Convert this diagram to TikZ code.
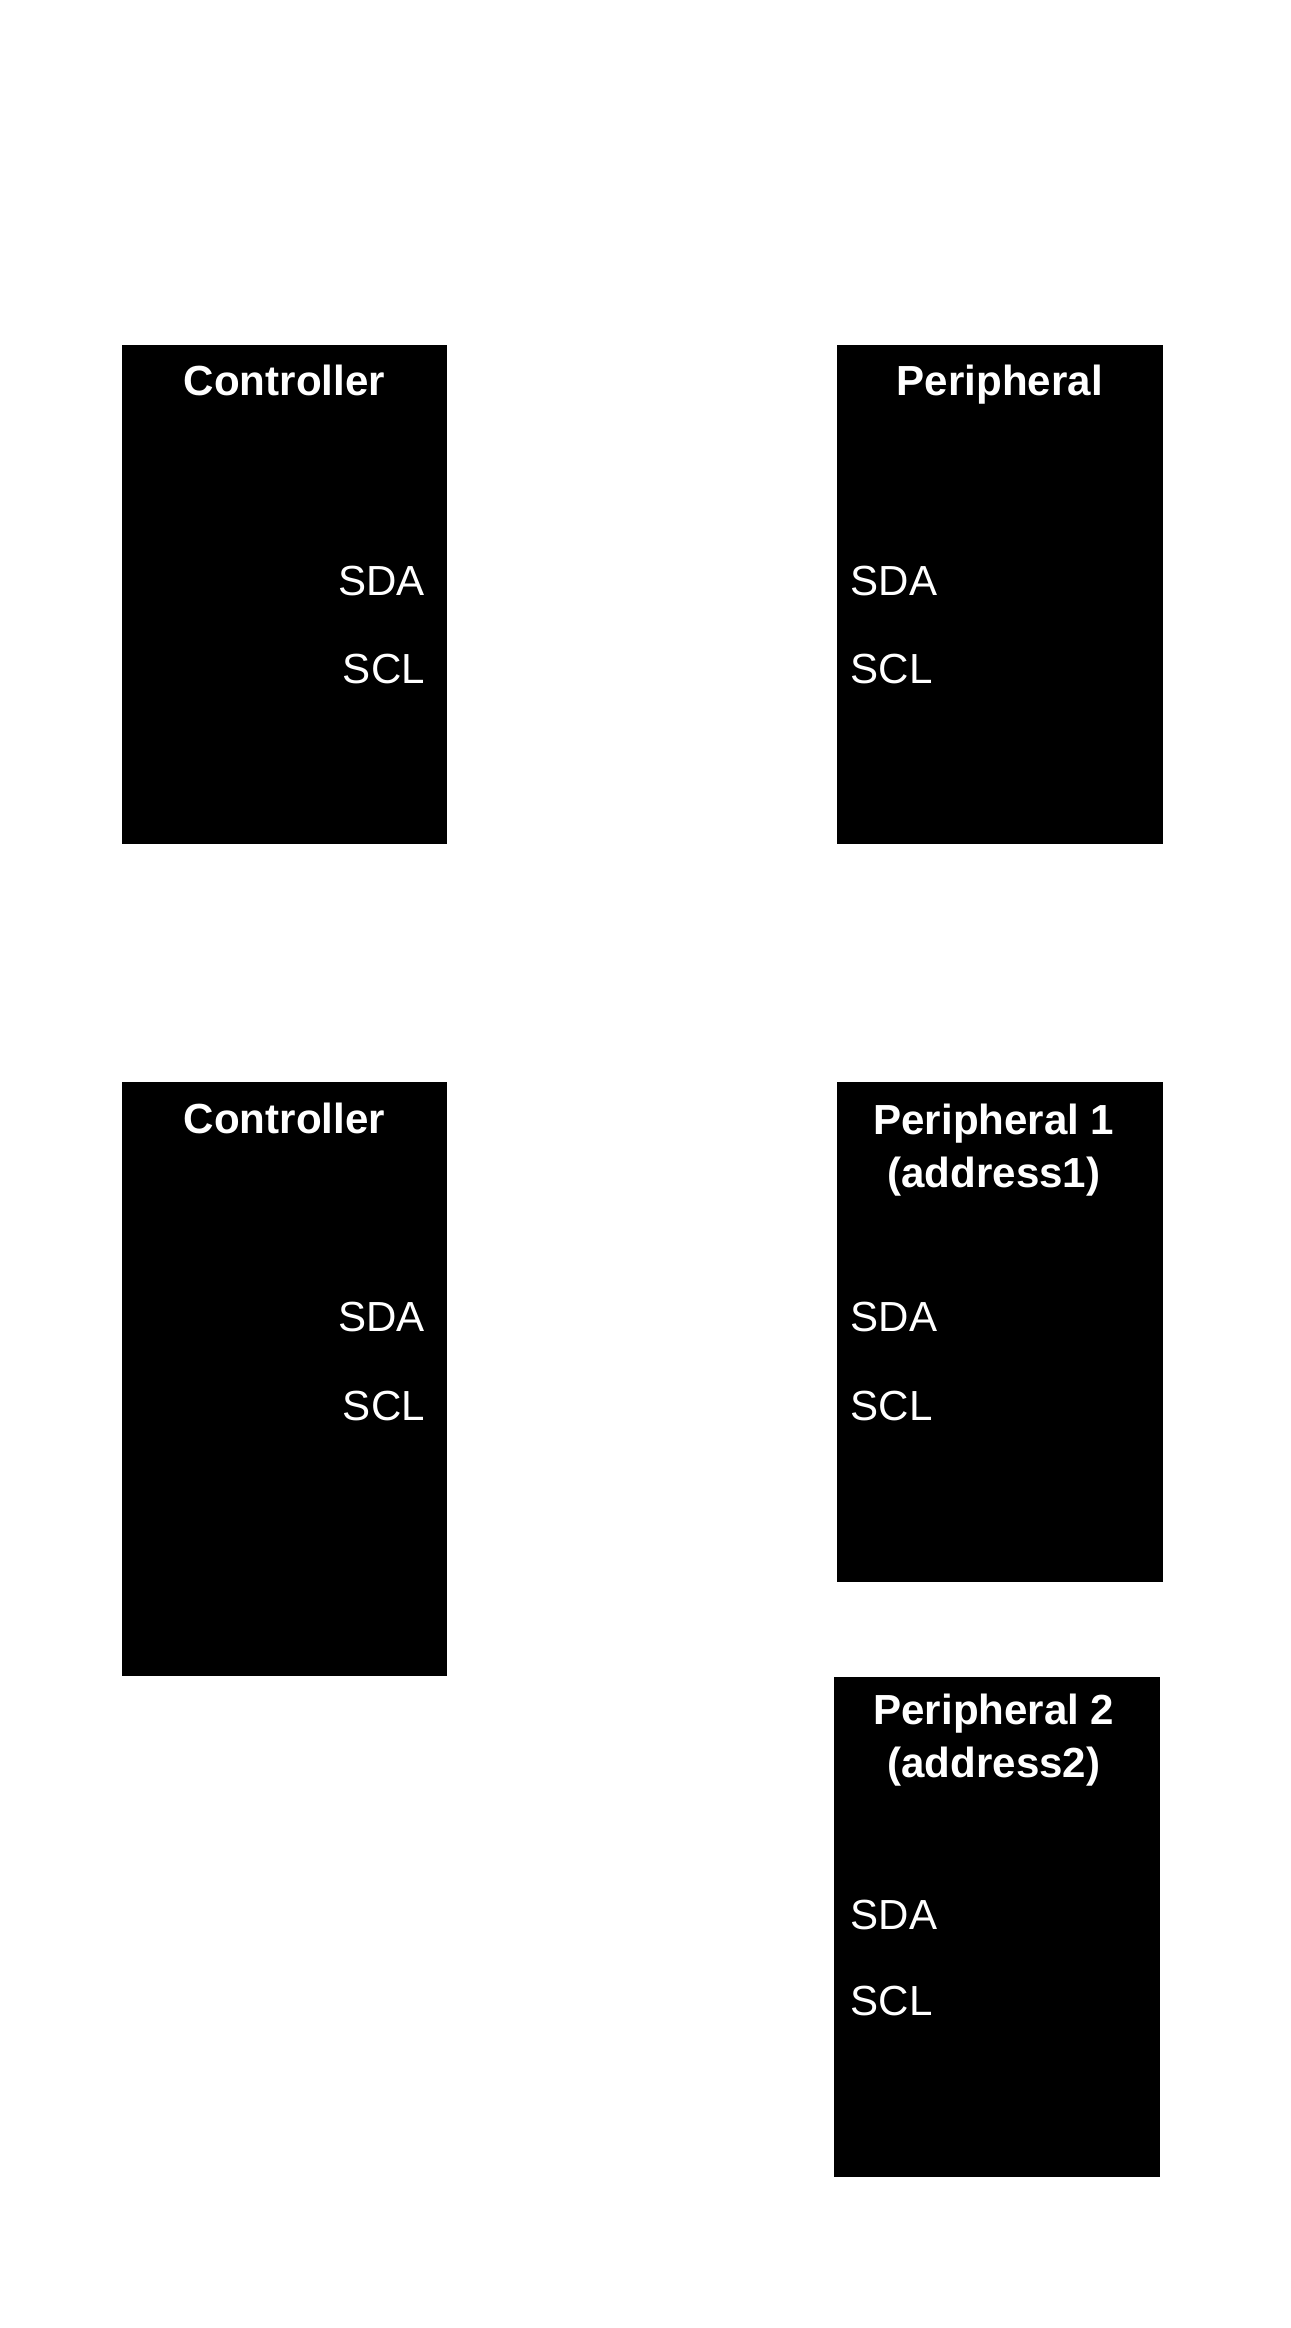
\documentclass[tikz,border=0pt]{standalone}
\usepackage{fontspec}
\setmainfont{Liberation Sans}
\begin{document}
\begin{tikzpicture}[x=0.03cm,y=-0.03cm,
        chip/.style={fill=black,draw=none},
        title text/.style={white,font=\fontsize{24.5}{27}\selectfont\bfseries,align=center,inner sep=0pt,anchor=base},
        pin right/.style={white,font=\fontsize{24.5}{27}\selectfont,anchor=base east,inner sep=0pt},
        pin left/.style={white,font=\fontsize{24.5}{27}\selectfont,anchor=base west,inner sep=0pt}]

        \useasboundingbox (0,0) rectangle (880,1588);

        % single peripheral
        \fill[chip] (83,235) rectangle (305,576);
        \node[title text] (ctrlA) at (194,270) {Controller};
        \node[pin right] (ctrlAsda) at (290,406) {SDA};
        \node[pin right] (ctrlAscl) at (290,466) {SCL};

        \fill[chip] (571,235) rectangle (793,576);
        \node[title text] (perA) at (682,270) {Peripheral};
        \node[pin left] (perAsda) at (580,406) {SDA};
        \node[pin left] (perAscl) at (580,466) {SCL};

        % two peripherals
        \fill[chip] (83,738) rectangle (305,1143);
        \node[title text] (ctrlB) at (194,773) {Controller};
        \node[pin right] (ctrlBsda) at (290,908) {SDA};
        \node[pin right] (ctrlBscl) at (290,969) {SCL};

        \fill[chip] (571,738) rectangle (793,1079);
        \node[title text,anchor=north] (perB) at (678,753) {Peripheral 1\\[4pt](address1)};
        \node[pin left] (perBsda) at (580,908) {SDA};
        \node[pin left] (perBscl) at (580,969) {SCL};

        \fill[chip] (569,1144) rectangle (791,1485);
        \node[title text,anchor=north] (perC) at (678,1155) {Peripheral 2\\[4pt](address2)};
        \node[pin left] (perCsda) at (580,1316) {SDA};
        \node[pin left] (perCscl) at (580,1375) {SCL};
    \end{tikzpicture}
\end{document}
